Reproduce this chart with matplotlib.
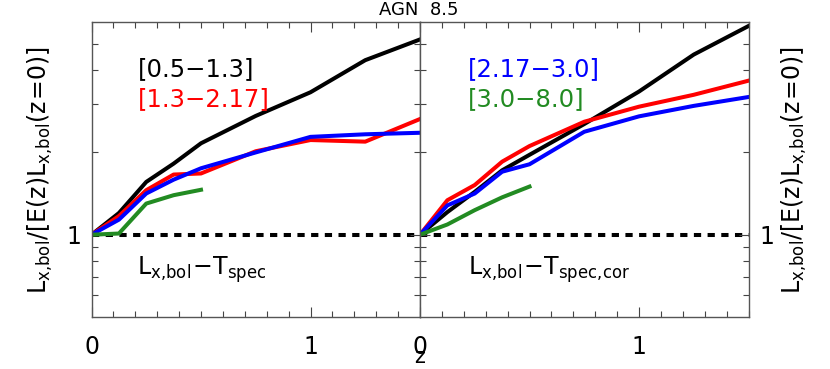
import numpy as np
import matplotlib
matplotlib.use('Agg')
import matplotlib.pyplot as plt
from matplotlib.ticker import FixedLocator, NullFormatter, FixedFormatter

plt.rcParams['font.family'] = 'DejaVu Sans'
plt.rcParams['mathtext.default'] = 'regular'

# redshift grid
z = [0.0, 0.125, 0.25, 0.375, 0.5, 0.75, 1.0, 1.25, 1.5]
z_hi = [0.0, 0.125, 0.25, 0.375, 0.5]

# left panel: Lx,bol - Tspec
left_black = [1.0, 1.20, 1.56, 1.82, 2.16, 2.72, 3.32, 4.35, 5.18]
left_red = [1.0, 1.17, 1.455, 1.66, 1.675, 2.02, 2.22, 2.19, 2.65]
left_blue = [1.0, 1.135, 1.415, 1.59, 1.75, 2.0, 2.28, 2.33, 2.36]
left_green = [1.0, 1.01, 1.30, 1.395, 1.46]

# right panel: Lx,bol - Tspec,cor
right_black = [1.0, 1.21, 1.435, 1.72, 1.96, 2.54, 3.34, 4.56, 5.8]
right_red = [1.0, 1.337, 1.52, 1.85, 2.11, 2.59, 2.94, 3.25, 3.66]
right_blue = [1.0, 1.28, 1.415, 1.70, 1.81, 2.38, 2.71, 2.96, 3.19]
right_green = [1.0, 1.09, 1.23, 1.37, 1.50]

bands_left = ['[0.5\u22121.3]', '[1.3\u22122.17]']
bands_right = ['[2.17\u22123.0]', '[3.0\u22128.0]']
green = '#228b22'

fig = plt.figure(figsize=(8.3, 3.69), dpi=100)
ax1 = fig.add_axes([91.5/830, 1-317/369, 328.5/830, 295/369])
ax2 = fig.add_axes([420/830, 1-317/369, 328.5/830, 295/369])

lw = 2.9
for ax, blk, red, blu, grn in [(ax1, left_black, left_red, left_blue, left_green),
                               (ax2, right_black, right_red, right_blue, right_green)]:
    ax.plot([0, 1.5], [1, 1], color='black', lw=lw, dashes=(1.8, 1.6), zorder=1)
    ax.plot(z, blk, color='black', lw=lw)
    ax.plot(z, red, color='red', lw=lw)
    ax.plot(z, blu, color='blue', lw=lw)
    ax.plot(z_hi, grn, color=green, lw=lw)
    ax.set_xlim(0, 1.5)
    ax.set_yscale('log')
    ax.set_ylim(0.5, 6.0)
    ax.xaxis.set_major_locator(FixedLocator([0, 1]))
    ax.xaxis.set_major_formatter(FixedFormatter(['0', '1']))
    ax.xaxis.set_minor_locator(FixedLocator(np.arange(0, 1.55, 0.1)))
    ax.yaxis.set_major_locator(FixedLocator([1]))
    ax.yaxis.set_major_formatter(FixedFormatter(['1']))
    ax.yaxis.set_minor_locator(FixedLocator([0.6, 0.7, 0.8, 0.9, 2, 3, 4, 5]))
    ax.yaxis.set_minor_formatter(NullFormatter())
    ax.tick_params(which='both', direction='in', top=True, right=True, left=True,
                   color='#444444', width=0.8, labelsize=17)
    ax.tick_params(which='major', length=7)
    ax.tick_params(which='minor', length=4)
    ax.tick_params(axis='x', pad=13)
    for s in ax.spines.values():
        s.set_color('#555555')
        s.set_linewidth(1.0)

ax1.tick_params(axis='y', pad=7, labelleft=True, labelright=False)
ax2.tick_params(axis='y', pad=8, labelleft=False, labelright=True)

ts = 17.5
ax1.text(0.14, 0.84, bands_left[0], color='black', fontsize=ts, transform=ax1.transAxes, va='center')
ax1.text(0.14, 0.74, bands_left[1], color='red', fontsize=ts, transform=ax1.transAxes, va='center')
ax2.text(0.145, 0.84, bands_right[0], color='blue', fontsize=ts, transform=ax2.transAxes, va='center')
ax2.text(0.145, 0.74, bands_right[1], color=green, fontsize=ts, transform=ax2.transAxes, va='center')

ax1.text(0.14, 0.16, r'$L_{x{,}bol}\!-\!T_{spec}$', fontsize=17, transform=ax1.transAxes, va='center')
ax2.text(0.145, 0.16, r'$L_{x{,}bol}\!-\!T_{spec{,}cor}$', fontsize=17, transform=ax2.transAxes, va='center')

ylab = r'$L_{x{,}bol}/[E(z)L_{x{,}bol}(z\!=\!0)]$'
fig.text(40/830, 1-170/369, ylab, rotation=90, fontsize=17, ha='center', va='center')
fig.text(794/830, 1-170/369, ylab, rotation=90, fontsize=17, ha='center', va='center')

fig.text(419/830, 1-10/369, 'AGN  8.5', fontsize=13, ha='center', va='center')
fig.text(420/830, 1-367/369, 'z', fontsize=15, ha='center', va='bottom')

fig.savefig('out.png', dpi=100)
